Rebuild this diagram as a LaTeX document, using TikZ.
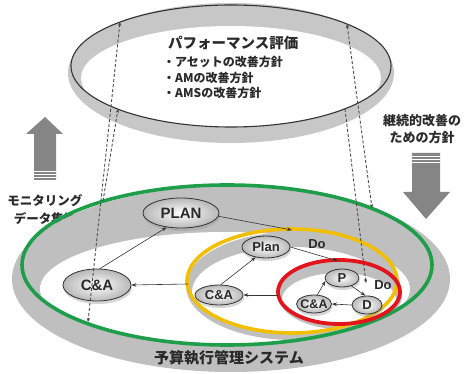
\documentclass[tikz,border=0pt]{standalone}
\usepackage{fontspec}
\newfontfamily\jp{Noto Sans CJK JP}
\newfontfamily\lat{Liberation Sans}
\usetikzlibrary{shapes.geometric,arrows.meta,shadows}
\definecolor{ggreen}{HTML}{1E9E4A}
\definecolor{gyellow}{HTML}{F2BF00}
\definecolor{gred}{HTML}{E3141C}
\definecolor{txt}{HTML}{2A2A2A}
\newcommand\fsz[1]{\fontsize{#1}{#1}\selectfont}
\begin{document}
\begin{tikzpicture}[x=1pt,y=-1pt,
  nd/.style={ellipse, draw=black!80, line width=0.8pt, inner sep=-4pt,
    inner color=white, outer color=black!28, text=txt, font=\lat\bfseries\fsz{#1},
    drop shadow={shadow xshift=1pt, shadow yshift=-3pt, opacity=0.35, fill=black!45}},
  lbl/.style={font=\lat\bfseries\fsz{#1}, text=txt, inner sep=0pt},
  jt/.style={font=\jp\bfseries\fsz{#1}, text=txt, inner sep=0pt},
  arr/.style={-{Stealth[length=5pt,width=3.5pt]}, black!80, line width=0.6pt},
  dsh/.style={black!70, line width=0.9pt, dash pattern=on 3pt off 2pt},
  tip/.style={Stealth[length=4pt,width=3.5pt]},
  blk/.style={fill=black!48},
  stripe/.style={white, line width=0.8pt}
]
\useasboundingbox (0,0) rectangle (464,374);

% ---------- top disc ----------
\fill[black!22] (231,73) ellipse [x radius=163, y radius=70];
\begin{scope}
  \clip (231,66) ellipse [x radius=160, y radius=61];
  \fill[white] (231,78) ellipse [x radius=150, y radius=52];
\end{scope}
\draw[black!80, line width=1.1pt] (231,66) ellipse [x radius=160, y radius=61];

\node[jt=14.5, anchor=west] (t0) at (168,43) {パフォーマンス評価};
\node[jt=12, anchor=west] (t1) at (163,62) {・アセットの改善方針};
\node[jt=12, anchor=west] (t2) at (163,78) {・AMの改善方針};
\node[jt=12, anchor=west] (t3) at (163,93) {・AMSの改善方針};

% ---------- block arrows ----------
\fill[blk] (45,117) -- (63,134) -- (56,134) -- (56,180) -- (34,180) -- (34,134) -- (26,134) -- cycle;
\draw[stripe] (34,171) -- (56,171);
\draw[stripe] (34,174.5) -- (56,174.5);
\draw[stripe] (34,177.5) -- (56,177.5);
\fill[blk] (426,219) -- (450,192) -- (440,192) -- (440,153) -- (412,153) -- (412,192) -- (403,192) -- cycle;
\draw[stripe] (412,156) -- (440,156);
\draw[stripe] (412,159) -- (440,159);
\draw[stripe] (412,162.5) -- (440,162.5);

\node[jt=12.5] (mon1) at (45,201) {モニタリング};
\node[jt=12.5] (mon2) at (45,219) {データ集約};
\node[jt=13] (pol1) at (422,121) {継続的改善の};
\node[jt=13] (pol2) at (422,138) {ための方針};

% ---------- bottom platform ----------
\fill[black!25] (231,279) ellipse [x radius=219, y radius=93];
\begin{scope}
  \clip (227,265) ellipse [x radius=205, y radius=80];
  \fill[white] (225,289) ellipse [x radius=185, y radius=57];
\end{scope}
% yellow disc
\fill[black!25] (293,286) ellipse [x radius=107, y radius=54];
\begin{scope}
  \clip (292,281) ellipse [x radius=105, y radius=52];
  \fill[white] (292,292) ellipse [x radius=100, y radius=45];
\end{scope}
% red disc
\fill[black!25] (340,295) ellipse [x radius=62, y radius=34];
\begin{scope}
  \clip (339,292) ellipse [x radius=61, y radius=32];
  \fill[white] (339,300) ellipse [x radius=57, y radius=27];
\end{scope}

\draw[ggreen, line width=3.6pt] (227,265) ellipse [x radius=205, y radius=80];
\draw[gyellow, line width=3.6pt] (292,281) ellipse [x radius=105, y radius=52];
\draw[gred, line width=3.8pt] (339,292) ellipse [x radius=61, y radius=32];

\node[jt=15] (sys) at (229,358) {予算執行管理システム};

% ---------- nodes ----------
\node[nd=15, minimum width=76pt, minimum height=30pt] (PLAN) at (181,213) {PLAN};
\node[nd=15, minimum width=68pt, minimum height=32pt] (CAL) at (97,285) {C\&A};
\node[nd=13, minimum width=48pt, minimum height=22pt] (Plan) at (266,247) {Plan};
\node[nd=13, minimum width=48pt, minimum height=20pt] (CAM) at (219,295) {C\&A};
\node[nd=13, minimum width=34pt, minimum height=18pt] (P) at (342,278) {P};
\node[nd=12.5, minimum width=35pt, minimum height=18pt] (CAS) at (314,304) {C\&A};
\node[nd=13, minimum width=30pt, minimum height=18pt] (D) at (367,305) {D};
\node[lbl=13] (do1) at (317,244) {Do};
\node[lbl=13] (do2) at (383,285) {Do};

\coordinate (ytop) at (292,230);
\coordinate (yleft) at (188,284);
\coordinate (rtop) at (338,261);
\coordinate (rleft) at (278,295);

\draw[arr] (CAL.80) -- (PLAN.225);
\draw[arr] (PLAN.-5) -- (ytop);
\draw[arr] (yleft) -- (CAL.east);
\draw[arr] (CAM.80) -- (Plan.225);
\draw[arr] (Plan.east) -- (rtop);
\draw[arr] (rleft) -- (CAM.east);
\draw[arr] (CAS.70) -- (P.190);
\draw[arr] (P.-40) -- (D.100);
\draw[arr] (D.west) -- (CAS.east);

% ---------- dashed links ----------
\coordinate (a1) at (120,22);  \coordinate (a2) at (88,322);
\coordinate (b1) at (118,109); \coordinate (b2) at (103,201);
\coordinate (c1) at (347,24);  \coordinate (c2) at (372,208);
\coordinate (d1) at (345,109); \coordinate (d2) at (366,283);
\draw[dsh, {Stealth[length=4pt,width=3.5pt]}-{Stealth[length=4pt,width=3.5pt]}] (a1) -- (a2);
\draw[dsh, -{Stealth[length=4pt,width=3.5pt]}] (b2) -- (b1);
\draw[dsh, {Stealth[length=4pt,width=3.5pt]}-{Stealth[length=4pt,width=3.5pt]}] (c1) -- (c2);
\draw[dsh, -{Stealth[length=4pt,width=3.5pt]}] (d1) -- (d2);
\end{tikzpicture}
\end{document}
